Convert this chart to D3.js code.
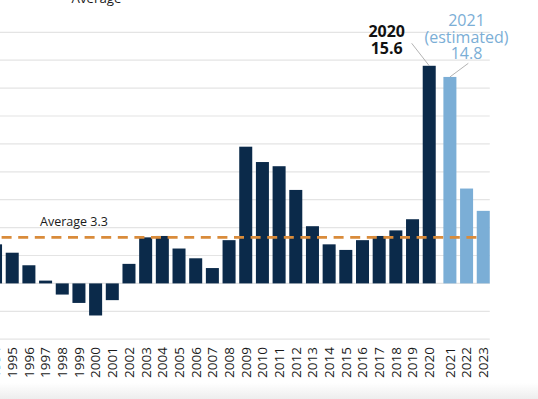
<!DOCTYPE html>
<html><head><meta charset="utf-8">
<script src="https://cdn.jsdelivr.net/npm/d3@7"></script>
<style>html,body{margin:0;padding:0;background:#fff;overflow:hidden}svg{display:block;font-family:"Open Sans",sans-serif}</style>
</head><body><svg id="c" width="538" height="399"></svg>
<script>
const years = ["1994","1995","1996","1997","1998","1999","2000","2001","2002","2003","2004","2005","2006","2007","2008","2009","2010","2011","2012","2013","2014","2015","2016","2017","2018","2019","2020","2021","2022","2023"];
const deficits = [2.8,2.2,1.3,0.2,-0.8,-1.4,-2.3,-1.2,1.4,3.3,3.4,2.5,1.8,1.1,3.1,9.8,8.7,8.4,6.7,4.1,2.8,2.4,3.1,3.4,3.8,4.6,15.6,14.8,6.8,5.2];
const estimatedYears = ["2021","2022","2023"];
const averageValue = 3.3;
const averageLabel = "Average 3.3";
const legendLabel = "Average";
const yTicks = [-4,-2,0,2,4,6,8,10,12,14,16,18];
const calloutYears = ["2020","2021"];
const calloutLines = [["2020","15.6"],["2021","(estimated)","14.8"]];

const DARK = "#0b2a4a", LIGHT = "#7baed6", ORANGE = "#d98b3a", GRID = "#e4e4e4";
const svg = d3.select("#c");
const data = years.map((y,i)=>({year:y, value:deficits[i], est: estimatedYears.includes(y)}));

// background band at bottom
const defs = svg.append("defs");
const g1 = defs.append("linearGradient").attr("id","bg").attr("x1",0).attr("x2",0).attr("y1",0).attr("y2",1);
g1.append("stop").attr("offset","0%").attr("stop-color","#ffffff");
g1.append("stop").attr("offset","100%").attr("stop-color","#ededed");
svg.append("rect").attr("x",0).attr("y",383).attr("width",538).attr("height",16).attr("fill","url(#bg)");

const x = d3.scaleBand().domain(years).range([-12.8, 487.6]).paddingInner(0.22).paddingOuter(0.11);
const estGap = 4;
const xPos = d => x(d) + (estimatedYears.includes(d) ? estGap : 0);
const y = d3.scaleLinear().domain([-4, 18]).range([339.2, 32.3]);
const gridRight = xPos(years[years.length-1]) + x.bandwidth();

// gridlines
svg.append("g").selectAll("line").data(yTicks).join("line")
  .attr("x1",-20).attr("x2",gridRight)
  .attr("y1",d=>y(d)).attr("y2",d=>y(d))
  .attr("stroke",GRID).attr("stroke-width",1.2);

// bars
svg.append("g").selectAll("rect").data(data).join("rect")
  .attr("x",d=>xPos(d.year)).attr("width",x.bandwidth())
  .attr("y",d=>y(Math.max(0,d.value)))
  .attr("height",d=>Math.abs(y(d.value)-y(0)))
  .attr("fill",d=>d.est?LIGHT:DARK);

// average line
svg.append("line")
  .attr("x1",-15).attr("x2",xPos(years[years.length-1]))
  .attr("y1",y(averageValue)).attr("y2",y(averageValue))
  .attr("stroke",ORANGE).attr("stroke-width",2.6).attr("stroke-dasharray","10 6.6");
svg.append("text").attr("x",40).attr("y",y(averageValue)-11.5)
  .attr("font-size",12.5).attr("fill","#1a1a1a").text(averageLabel);

// legend (cropped at top)
svg.append("line").attr("x1",18).attr("x2",63).attr("y1",-1.5).attr("y2",-1.5)
  .attr("stroke",ORANGE).attr("stroke-width",2.6).attr("stroke-dasharray","10 6.6");
svg.append("text").attr("x",71.5).attr("y",2.5).attr("font-size",13.3).attr("fill","#1a1a1a").text(legendLabel);

// x axis labels
svg.append("g").selectAll("text").data(years).join("text")
  .attr("transform",d=>`translate(${xPos(d)+x.bandwidth()/2},347) rotate(-90)`)
  .attr("text-anchor","end").attr("dy","0.36em")
  .attr("font-size",13.5).attr("fill","#1a1a1a").text(d=>d);

// callouts
const calloutStyle = [
  {cx:386.7, base:37.3, lh:16.8, weight:700, color:"#111", from:[411.7,43.3]},
  {cx:466.5, base:26, lh:16.6, weight:400, color:LIGHT, from:[468.3,63.3]}
];
calloutYears.forEach((yr,i)=>{
  const s = calloutStyle[i];
  const d = data.find(e=>e.year===yr);
  const bx = xPos(yr)+x.bandwidth()/2;
  svg.append("line").attr("x1",s.from[0]).attr("y1",s.from[1]).attr("x2",bx).attr("y2",y(d.value))
    .attr("stroke","#a0a0a0").attr("stroke-width",0.8);
  calloutLines[i].forEach((t,j)=>{
    svg.append("text").attr("x",s.cx).attr("y",s.base+j*s.lh).attr("text-anchor","middle")
      .attr("font-size",16).attr("font-weight",s.weight).attr("fill",s.color).text(t);
  });
});
</script></body></html>
